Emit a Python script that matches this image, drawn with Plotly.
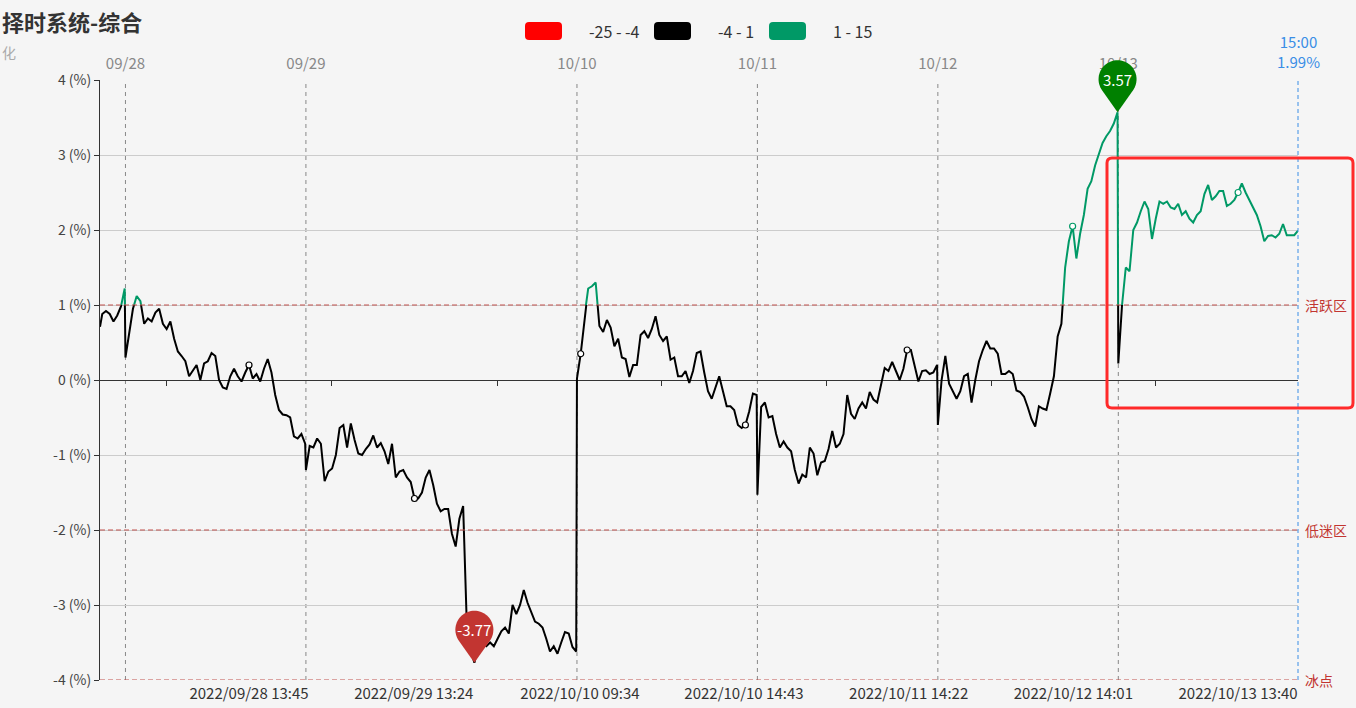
import math
import plotly.graph_objects as go

# ---------------- data ----------------
title_text = "择时系统-综合"
axis_name = "化"
trade_days = ["2022/09/27", "2022/09/28", "2022/09/29", "2022/09/30",
              "2022/10/10", "2022/10/11", "2022/10/12", "2022/10/13"]
first_day_start = "14:27"          # series begins near the close of the first day
morning_only_days = ["2022/09/30"]
top_labeled_days = ["2022/09/28", "2022/09/29", "2022/10/10",
                    "2022/10/11", "2022/10/12", "2022/10/13"]
bottom_tick_labels = ["2022/09/28 13:45", "2022/09/29 13:24", "2022/10/10 09:34",
                      "2022/10/10 14:43", "2022/10/11 14:22", "2022/10/12 14:01",
                      "2022/10/13 13:40"]
y_ticks = [-4, -3, -2, -1, 0, 1, 2, 3, 4]
zone_levels = [1, -2, -4]
zone_names = ["活跃区", "低迷区", "冰点"]
piece_ranges = [(-25, -4), (-4, 1), (1, 15)]
piece_colors = ["#ff0000", "#000000", "#009966"]

# values (%) sampled every 5 trading minutes
v_0927 = [0.71, 0.88, 0.92, 0.88, 0.78, 0.86, 0.98, 1.22]
v_0928 = [0.30, 0.60, 0.95, 1.12, 1.05, 0.75, 0.82, 0.78, 0.90, 0.95,
          0.75, 0.68, 0.78, 0.55, 0.38, 0.32, 0.25, 0.05, 0.12, 0.20,
          0.00, 0.22, 0.25, 0.36, 0.32, 0.00, -0.10, -0.12, 0.05, 0.15,
          0.05, -0.02, 0.10, 0.20, 0.02, 0.08, -0.02, 0.15, 0.28, 0.10,
          -0.20, -0.40, -0.46, -0.47, -0.50, -0.75, -0.78, -0.72, -0.85]
v_0929 = [-1.20, -0.88, -0.90, -0.78, -0.85, -1.35, -1.22, -1.18, -1.00, -0.64,
          -0.60, -0.90, -0.58, -0.80, -0.98, -1.00, -0.92, -0.86, -0.74, -0.90,
          -0.84, -0.95, -1.12, -0.85, -1.30, -1.22, -1.20, -1.30, -1.36, -1.58,
          -1.58, -1.50, -1.30, -1.20, -1.40, -1.65, -1.75, -1.72, -1.72, -2.05,
          -2.22, -1.85, -1.68, -3.30, -3.60, -3.77, -3.55, -3.50, -3.55]
v_0930 = [-3.55, -3.50, -3.55, -3.45, -3.35, -3.30, -3.38, -3.00, -3.12, -3.00,
          -2.80, -2.97, -3.10, -3.22, -3.25, -3.30, -3.45, -3.62, -3.55, -3.65,
          -3.50, -3.36, -3.38, -3.56, -3.62]
v_1010 = [0.02, 0.35, 0.85, 1.22, 1.25, 1.30, 0.72, 0.64, 0.80, 0.70,
          0.45, 0.55, 0.30, 0.28, 0.04, 0.20, 0.20, 0.60, 0.65, 0.56,
          0.68, 0.85, 0.60, 0.52, 0.58, 0.27, 0.30, 0.05, 0.05, 0.12,
          -0.04, 0.12, 0.36, 0.38, 0.10, -0.15, -0.25, -0.10, 0.05, -0.15,
          -0.35, -0.35, -0.40, -0.60, -0.64, -0.60, -0.42, -0.18, -0.20]
v_1011 = [-1.53, -0.36, -0.30, -0.50, -0.48, -0.72, -0.90, -0.82, -0.90, -0.95,
          -1.20, -1.38, -1.26, -1.30, -0.90, -0.98, -1.27, -1.10, -1.08, -0.92,
          -0.68, -0.90, -0.85, -0.72, -0.20, -0.45, -0.52, -0.38, -0.30, -0.38,
          -0.16, -0.26, -0.30, -0.08, 0.16, 0.12, 0.24, 0.12, 0.00, 0.15,
          0.40, 0.40, 0.18, -0.02, 0.12, 0.13, 0.08, 0.10, 0.20]
v_1012 = [-0.60, 0.00, 0.32, -0.05, -0.15, -0.25, -0.15, 0.05, 0.08, -0.30,
          0.00, 0.25, 0.40, 0.52, 0.42, 0.42, 0.35, 0.08, 0.08, 0.12,
          0.08, -0.14, -0.16, -0.22, -0.36, -0.52, -0.62, -0.35, -0.38, -0.40,
          -0.18, 0.05, 0.58, 0.75, 1.50, 1.85, 2.05, 1.62, 1.95, 2.20,
          2.55, 2.65, 2.86, 3.00, 3.16, 3.25, 3.32, 3.42, 3.57]
v_1013 = [0.22, 1.00, 1.50, 1.45, 2.00, 2.10, 2.25, 2.38, 2.28, 1.88,
          2.15, 2.38, 2.35, 2.38, 2.30, 2.28, 2.35, 2.20, 2.25, 2.15,
          2.10, 2.20, 2.25, 2.48, 2.60, 2.40, 2.45, 2.52, 2.52, 2.32,
          2.35, 2.40, 2.50, 2.62, 2.50, 2.40, 2.32, 2.20, 2.05, 1.85,
          1.92, 1.93, 1.90, 1.95, 2.08, 1.93, 1.93, 1.93, 1.99]
day_values = [v_0927, v_0928, v_0929, v_0930, v_1010, v_1011, v_1012, v_1013]

# ---------------- build trading-minute timeline ----------------
def hm(s):
    h, m = s.split(":")
    return int(h) * 60 + int(m)

def session_minutes(morning_only):
    mins = list(range(hm("09:30"), hm("11:30") + 1))
    if not morning_only:
        mins += list(range(hm("13:01"), hm("15:00") + 1))
    return mins

timeline = []      # labels "YYYY/MM/DD HH:MM"
day_start_idx = {}
xs, ys = [], []
for di, (day, vals) in enumerate(zip(trade_days, day_values)):
    mins = session_minutes(day in morning_only_days)
    sample_pos = []
    first = True
    for pos, m in enumerate(mins):
        if di == 0 and m < hm(first_day_start):
            continue
        idx = len(timeline)
        if first:
            day_start_idx[day] = idx
        timeline.append(f"{day} {m // 60:02d}:{m % 60:02d}")
        if first or pos % 5 == 0:
            sample_pos.append(idx)
        first = False
    assert len(sample_pos) == len(vals), (day, len(sample_pos), len(vals))
    xs += sample_pos
    ys += vals

N = len(timeline)
label_idx = [timeline.index(s) for s in bottom_tick_labels]
interval = label_idx[1] - label_idx[0]
minor_tick_idx = [i - interval // 2 for i in label_idx]

# ---------------- geometry helpers (pixels -> paper) ----------------
W, H = 1356, 708
ML, MR, MT, MB = 100, 58, 80, 28
PW, PH = W - ML - MR, H - MT - MB
def px(x): return (x - ML) / PW
def py(y): return (H - MB - y) / PH

FONT = "Microsoft YaHei, Noto Sans CJK SC, Noto Sans, sans-serif"
ymin, ymax = y_ticks[0], y_ticks[-1]
xr = [0, N - 1]
def yfrac(v): return (v - ymin) / (ymax - ymin)
def xfrac(x): return (x - xr[0]) / (xr[1] - xr[0])
green_lo = piece_ranges[2][0]
split = yfrac(green_lo)

fig = go.Figure()
fig.add_trace(go.Scatter(x=xs, y=ys, mode="lines", xaxis="x", yaxis="y3",
                         line=dict(color=piece_colors[1], width=2),
                         hoverinfo="skip", showlegend=False))
fig.add_trace(go.Scatter(x=xs, y=ys, mode="lines", xaxis="x", yaxis="y2",
                         line=dict(color=piece_colors[2], width=2),
                         hoverinfo="skip", showlegend=False))
# invisible traces so that every axis gets drawn
for xa in ("x", "x2", "x3"):
    fig.add_trace(go.Scatter(x=[xs[0]], y=[ys[0]], mode="markers", xaxis=xa, yaxis="y",
                             marker=dict(opacity=0), hoverinfo="skip", showlegend=False))

shapes, annotations = [], []

# dashed day separators
for d in top_labeled_days:
    xi = xfrac(day_start_idx[d])
    shapes.append(dict(type="line", xref="paper", yref="paper", x0=xi, x1=xi, y0=0, y1=1,
                       line=dict(color="#888", width=1, dash="4px,4px"), layer="below"))

# hollow symbols at label positions
for li in label_idx:
    j = min(range(len(xs)), key=lambda k: abs(xs[k] - li))
    col = piece_colors[2] if ys[j] >= green_lo else piece_colors[1]
    shapes.append(dict(type="circle", xref="x", yref="y", xsizemode="pixel", ysizemode="pixel",
                       xanchor=xs[j], yanchor=ys[j], x0=-3, x1=3, y0=-3, y1=3,
                       fillcolor="white", line=dict(color=col, width=1.2), layer="above"))

# zone mark lines
for lvl, name in zip(zone_levels, zone_names):
    shapes.append(dict(type="line", xref="paper", yref="y", x0=0, x1=1, y0=lvl, y1=lvl,
                       line=dict(color="#c0504d", width=1, dash="5px,3px"), layer="above"))
    annotations.append(dict(xref="paper", yref="y", x=1, y=lvl, text=name, showarrow=False,
                            xanchor="left", yanchor="middle", xshift=5,
                            font=dict(family=FONT, size=14, color="#c23531")))

# last point mark line
last_x, last_v = xs[-1], ys[-1]
shapes.append(dict(type="line", xref="paper", yref="paper", x0=xfrac(last_x), x1=xfrac(last_x),
                   y0=0, y1=1, line=dict(color="#3a8ee6", width=1, dash="4px,3px"), layer="above"))
annotations.append(dict(xref="paper", yref="paper", x=xfrac(last_x), y=1,
                        xanchor="center", yanchor="bottom", yshift=6,
                        text=f"{timeline[-1][-5:]}<br>{last_v:.2f}%", showarrow=False,
                        font=dict(family=FONT, size=15, color="#3a8ee6")))

# pins for max / min
def pin_path(r=19, h=33, n=48):
    a = math.asin(-r / h)
    pts = [(0.0, 0.0)]
    for i in range(n + 1):
        t = a + (math.pi - 2 * a) * i / n
        pts.append((r * math.cos(t), h + r * math.sin(t)))
    return "M " + " L ".join(f"{x:.2f},{y:.2f}" for x, y in pts) + " Z"

imax = max(range(len(ys)), key=lambda k: ys[k])
imin = min(range(len(ys)), key=lambda k: ys[k])
for k, col in ((imax, "#008000"), (imin, "#c23531")):
    shapes.append(dict(type="path", xref="paper", yref="paper", xsizemode="pixel", ysizemode="pixel",
                       xanchor=xfrac(xs[k]), yanchor=yfrac(ys[k]), path=pin_path(), fillcolor=col,
                       line=dict(width=0), layer="above"))
    annotations.append(dict(xref="paper", yref="paper", x=xfrac(xs[k]), y=yfrac(ys[k]),
                            xanchor="center", yanchor="middle",
                            text=f"{ys[k]:.2f}", showarrow=False, yshift=33,
                            font=dict(family=FONT, size=15, color="white")))

# visualMap pieces (legend)
def rrect(x0, y0, x1, y1, r):
    return (f"M {px(x0 + r)},{py(y0)} L {px(x1 - r)},{py(y0)} Q {px(x1)},{py(y0)} {px(x1)},{py(y0 + r)} "
            f"L {px(x1)},{py(y1 - r)} Q {px(x1)},{py(y1)} {px(x1 - r)},{py(y1)} "
            f"L {px(x0 + r)},{py(y1)} Q {px(x0)},{py(y1)} {px(x0)},{py(y1 - r)} "
            f"L {px(x0)},{py(y0 + r)} Q {px(x0)},{py(y0)} {px(x0 + r)},{py(y0)} Z")

legend_x = [525, 654, 769]
for lx, (lo, hi), col in zip(legend_x, piece_ranges, piece_colors):
    shapes.append(dict(type="path", xref="paper", yref="paper", path=rrect(lx, 22, lx + 37, 40, 4),
                       fillcolor=col, line=dict(width=0)))
    annotations.append(dict(xref="paper", yref="paper", x=px(lx + 62), y=py(31), text=f"{lo} - {hi}",
                            showarrow=False, xanchor="left", yanchor="middle",
                            font=dict(family=FONT, size=16, color="#333")))

# highlight box
shapes.append(dict(type="path", xref="paper", yref="paper", path=rrect(1107, 158, 1353, 408, 5),
                   line=dict(color="#ff2a2a", width=3), fillcolor="rgba(0,0,0,0)", layer="above"))

# title and axis name
annotations.append(dict(xref="paper", yref="paper", x=px(0), y=py(21), text=f"<b>{title_text}</b>",
                        showarrow=False, xanchor="left", yanchor="middle",
                        font=dict(family=FONT, size=22, color="#333")))
annotations.append(dict(xref="paper", yref="paper", x=px(0), y=py(52), text=axis_name,
                        showarrow=False, xanchor="left", yanchor="middle",
                        font=dict(family=FONT, size=14, color="#aaa")))

top_idx = [day_start_idx[d] for d in top_labeled_days]
top_txt = [d[5:] for d in top_labeled_days]

fig.update_layout(
    width=W, height=H,
    margin=dict(l=ML, r=MR, t=MT, b=MB),
    paper_bgcolor="#f5f5f5", plot_bgcolor="rgba(0,0,0,0)",
    font=dict(family=FONT, color="#333"),
    showlegend=False,
    xaxis=dict(range=xr, anchor="y", tickvals=label_idx, ticktext=bottom_tick_labels,
               showgrid=False, zeroline=False, showline=False, ticks="", ticklabelstandoff=3,
               automargin=False, tickfont=dict(size=15, color="#333")),
    xaxis2=dict(range=xr, overlaying="x", side="top", anchor="y", tickvals=top_idx, ticktext=top_txt,
                showgrid=False, zeroline=False, showline=False, ticks="", ticklabelstandoff=7,
                automargin=False, tickfont=dict(size=15, color="#888")),
    xaxis3=dict(range=xr, overlaying="x", anchor="free", position=0.5, side="bottom",
                tickvals=minor_tick_idx, ticks="outside", ticklen=5, tickcolor="#333",
                automargin=False,
                showticklabels=False, showgrid=False, zeroline=False, showline=False),
    yaxis=dict(range=[ymin, ymax], domain=[0, 1], tickvals=y_ticks,
               ticktext=[f"{v} (%)" for v in y_ticks],
               showgrid=True, gridcolor="#cccccc", gridwidth=1,
               zeroline=True, zerolinecolor="#333", zerolinewidth=1,
               showline=True, linecolor="#333", linewidth=1,
               ticks="outside", ticklen=5, tickcolor="#333", automargin=False,
               tickfont=dict(size=14, color="#444")),
    yaxis2=dict(range=[green_lo, ymax], domain=[split, 1], anchor="x", visible=False),
    yaxis3=dict(range=[ymin, green_lo], domain=[0, split], anchor="x", visible=False),
    shapes=shapes, annotations=annotations,
)

fig.write_html("out.html", config={"displayModeBar": False},
               post_script="document.body.style.margin='0';")
